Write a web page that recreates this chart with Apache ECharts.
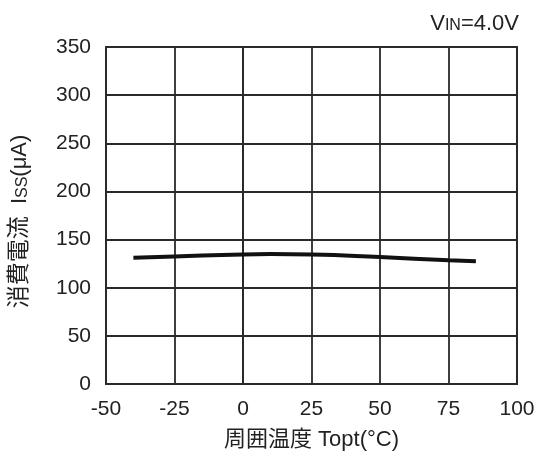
<!DOCTYPE html>
<html><head><meta charset="utf-8">
<script src="https://cdn.jsdelivr.net/npm/echarts@6/dist/echarts.min.js"></script>
<style>html,body{margin:0;padding:0;background:#fff}#c{width:541px;height:456px}</style>
</head><body><div id="c"></div>
<script>
const temps = [-40, -25, 0, 10, 25, 50, 75, 85];
const currents = [131.2, 132.5, 134.6, 134.9, 134.5, 131.8, 128.4, 127.4];
const xTicks = [-50, -25, 0, 25, 50, 75, 100];
const yTicks = [0, 50, 100, 150, 200, 250, 300, 350];

const chart = echarts.init(document.getElementById('c'));
const font = '"Liberation Sans", Arial, "Noto Sans CJK JP", sans-serif';
const lineCol = '#2a2a2a';
chart.setOption({
  animation: false,
  textStyle: {fontFamily: font},
  grid: {left: 103, right: 24, top: 47, bottom: 71, show: true, borderColor: lineCol, borderWidth: 1.8},
  xAxis: {
    type: 'value', min: -50, max: 100, interval: 25,
    axisLine: {show: true, lineStyle: {color: lineCol, width: 1.8}},
    axisTick: {show: false},
    splitLine: {show: true, lineStyle: {color: lineCol, width: 1.8}},
    axisLabel: {color: '#222', fontSize: 21, margin: 15, fontFamily: font},
    name: '周囲温度 Topt(°C)', nameLocation: 'middle', nameGap: 45,
    nameTextStyle: {color: '#222', fontSize: 22, fontFamily: font}
  },
  yAxis: {
    type: 'value', min: 0, max: 350, interval: 50,
    axisLine: {show: true, lineStyle: {color: lineCol, width: 1.8}},
    axisTick: {show: false},
    splitLine: {show: true, lineStyle: {color: lineCol, width: 1.8}},
    axisLabel: {color: '#222', fontSize: 21, margin: 15, fontFamily: font},
    name: '{c|消費電流}{a|  I}{b|SS}{a|(μA)}{s| }', nameLocation: 'middle', nameGap: 75, nameRotate: 90,
    nameTextStyle: {color: '#222', fontFamily: font,
      rich: {a: {fontSize: 22, color: '#222', fontFamily: font},
             c: {fontSize: 23, color: '#222', fontFamily: font},
             s: {fontSize: 22, width: 12},
             b: {fontSize: 16, color: '#222', fontFamily: font, verticalAlign: 'bottom', padding: [4,0,0,0]}}}
  },
  graphic: [{
    type: 'text', right: 22, top: 13,
    style: {rich: {a: {fontSize: 22, fill: '#222', fontFamily: font}, b: {fontSize: 16, fill: '#222', fontFamily: font, padding: [3,0,0,0]}},
      text: '{a|V}{b|IN}{a|=4.0V}'}
  }],
  series: [{
    type: 'line', smooth: true, symbol: 'none',
    data: temps.map((t, i) => [t, currents[i]]),
    lineStyle: {color: '#111', width: 4}
  }]
});
</script></body></html>
